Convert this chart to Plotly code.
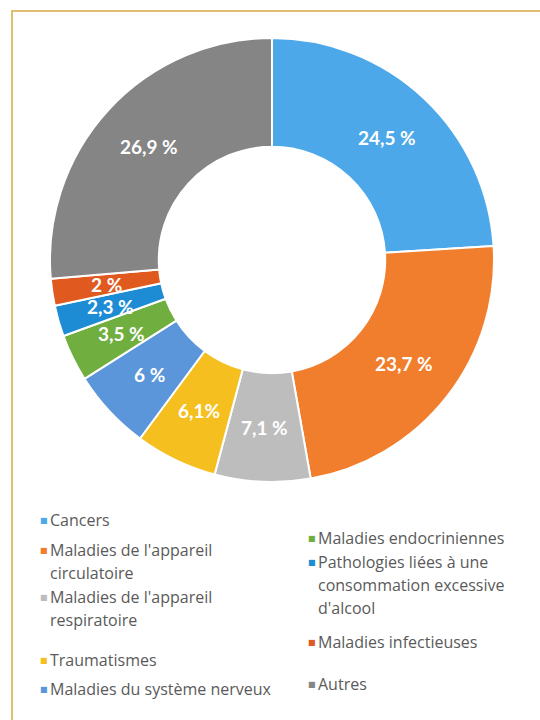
import math
import plotly.graph_objects as go

# ---- data ----
categories = [
    "Cancers",
    "Maladies de l'appareil circulatoire",
    "Maladies de l'appareil respiratoire",
    "Traumatismes",
    "Maladies du système nerveux",
    "Maladies endocriniennes",
    "Pathologies liées à une consommation excessive d'alcool",
    "Maladies infectieuses",
    "Autres",
]
values = [24.5, 23.7, 7.1, 6.1, 6.0, 3.5, 2.3, 2.0, 26.9]
value_labels = ["24,5 %", "23,7 %", "7,1 %", "6,1%", "6 %", "3,5 %", "2,3 %", "2 %", "26,9 %"]
colors = ["#4DA8EA", "#F07E2C", "#BDBDBD", "#F5BF1F", "#5B96DB",
          "#6FAE3F", "#1E8BD5", "#E05A20", "#858585"]

legend_lines = [
    ["Cancers"],
    ["Maladies de l'appareil", "circulatoire"],
    ["Maladies de l'appareil", "respiratoire"],
    ["Traumatismes"],
    ["Maladies du système nerveux"],
    ["Maladies endocriniennes"],
    ["Pathologies liées à une", "consommation excessive", "d'alcool"],
    ["Maladies infectieuses"],
    ["Autres"],
]

W, H = 540, 720
PCX, PCY, R = 272, 260, 222   # pie centre (px from left/top) and outer radius (px)
HOLE = 0.51

fig = go.Figure()
fig.add_trace(go.Pie(
    labels=categories,
    values=values,
    textinfo="none",
    marker=dict(colors=colors, line=dict(color="white", width=2)),
    hole=HOLE,
    sort=False,
    direction="clockwise",
    rotation=0,
    showlegend=False,
    domain=dict(x=[(PCX - R) / W, (PCX + R) / W],
                y=[(H - PCY - R) / H, (H - PCY + R) / H]),
))

annotations = []

# ---- data labels at the middle of the ring (positions derived from the values) ----
total = sum(values)
r_mid = R * (1 + HOLE) / 2
cum = 0.0
for v, lab in zip(values, value_labels):
    ang = math.radians((cum + v / 2) / total * 360)   # clockwise from 12 o'clock
    cum += v
    px = PCX + r_mid * math.sin(ang)
    py = PCY - r_mid * math.cos(ang)
    annotations.append(dict(
        x=px / W, y=1 - py / H, xref="paper", yref="paper",
        xanchor="center", yanchor="middle", showarrow=False,
        text=lab, font=dict(family="Lato", size=19, color="white", weight="bold"),
    ))

# ---- manual two-column legend ----
col_x = [48, 316]          # text left edge (px)
item_y = [520, 550, 597, 660, 689, 538, 562, 642, 684]   # first line centre (px from top)
item_col = [0, 0, 0, 0, 0, 1, 1, 1, 1]
line_gap = 23

for i, lines in enumerate(legend_lines):
    cx = col_x[item_col[i]]
    y0 = item_y[i]
    annotations.append(dict(
        x=(cx - 10) / W, y=1 - y0 / H, xref="paper", yref="paper",
        xanchor="left", yanchor="middle", showarrow=False,
        text="■", font=dict(family="DejaVu Sans", size=8, color=colors[i]),
    ))
    for j, ln in enumerate(lines):
        annotations.append(dict(
            x=cx / W, y=1 - (y0 + j * line_gap) / H, xref="paper", yref="paper",
            xanchor="left", yanchor="middle", showarrow=False,
            text=ln, font=dict(family="Open Sans", size=16, color="#5A5A5A"),
        ))

fig.update_layout(
    width=W, height=H,
    margin=dict(l=0, r=0, t=0, b=0),
    paper_bgcolor="white",
    plot_bgcolor="white",
    annotations=annotations,
    shapes=[dict(type="rect", xref="paper", yref="paper",
                 x0=12 / W, x1=1.05, y0=-0.05, y1=1 - 11 / H,
                 line=dict(color="#E0BE72", width=2), fillcolor="rgba(0,0,0,0)",
                 layer="below")],
)

fig.write_html("out.html")
